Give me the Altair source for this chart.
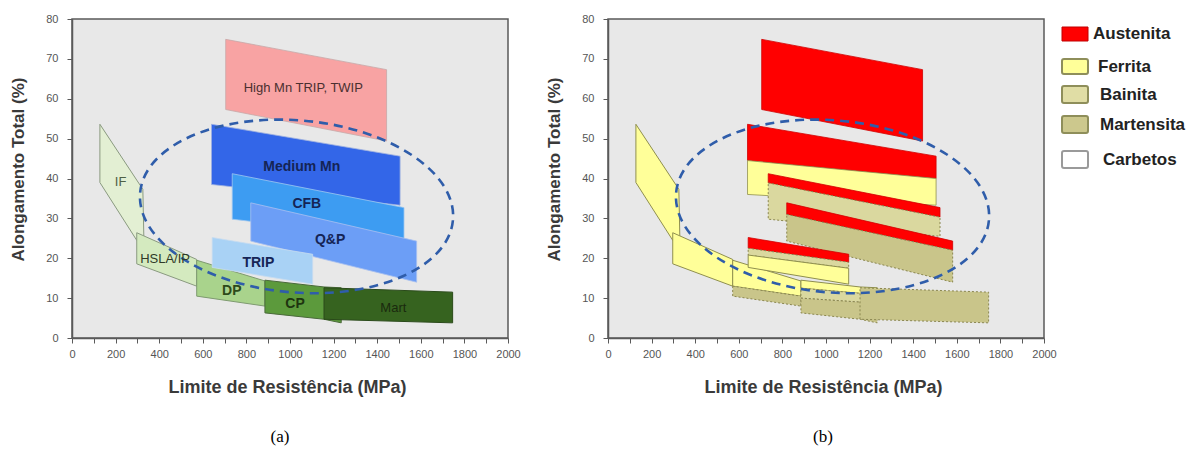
import altair as alt
import pandas as pd

W, H = 436, 319

# ---------------- data (MPa, %) ----------------
HIGHMN_X = [705, 1443]
HIGHMN_TOP = [74.9, 67.3]
HIGHMN_BOT = [57.3, 49.4]

MEDMN_X = [640, 1505]
MEDMN_TOP = [53.6, 45.6]
MEDMN_BOT = [38.5, 33.3]

CFB_X = [735, 1523]
CFB_TOP = [41.2, 32.7]
CFB_BOT = [29.8, 24.8]

QP_X = [820, 1581]
QP_TOP = [33.9, 24.3]
QP_BOT = [24.3, 14.0]

TRIP_X = [643, 1104]
TRIP_TOP = [25.2, 21.0]
TRIP_BOT = [17.7, 13.5]

IF_X = [128, 297, 325, 330]
IF_TOP = [53.6, 39.6, 37.3, 24.0]
IF_BOT = [39.0, 24.5, 24.2, 24.0]

HSLA_X = [297, 572]
HSLA_TOP = [26.4, 19.7]
HSLA_BOT = [18.6, 13.0]

DP_X = [572, 885]
DP_TOP = [19.5, 14.3]
DP_BOT = [10.5, 8.0]

CP_X = [885, 1156, 1235]
CP_TOP = [14.5, 12.8, 12.6]
CP_BOT = [6.3, 4.7, 3.8]

MART_X = [1156, 1746]
MART_TOP = [12.6, 11.5]
MART_BOT = [4.7, 3.8]

# phase boundaries inside each grade (panel b)
MEDMN_AUST_BOT = [44.5, 40.0]
MEDMN_FER_BOT = [36.0, 33.3]
CFB_AUST_BOT = [38.9, 30.3]
CFB_BAI_BOT = [29.8, 25.5]
QP_AUST_BOT = [31.0, 22.0]
TRIP_AUST_BOT = [22.5, 19.0]
TRIP_BAI_BOT = [20.8, 17.5]
DP_FER_BOT = [13.0, 10.5]
CP_FER_BOT = [12.5, 11.2, 11.0]
CP_BAI_BOT = [10.0, 9.0, 8.8]

ELLIPSE_X = [1030]
ELLIPSE_Y = [33.0]

LABELS_PLAIN = ["High Mn TRIP, TWIP", "IF", "HSLA/IP", "Mart"]
LABELS_PLAIN_X = [1061, 223, 427, 1474]
LABELS_PLAIN_Y = [62.7, 39.0, 19.7, 7.6]
LABELS_BOLD = ["Medium Mn", "CFB", "Q&P", "TRIP", "DP", "CP"]
LABELS_BOLD_X = [1054, 1077, 1184, 855, 733, 1023]
LABELS_BOLD_Y = [42.9, 33.5, 24.7, 18.9, 11.8, 8.5]

LEGEND_LABELS = ["Austenita", "Ferrita", "Bainita", "Martensita", "Carbetos"]

X_TICKS = list(range(0, 2001, 100))
Y_TICKS = list(range(0, 81, 10))

# ---------------- styles ----------------
PLAIN_COLORS = ["#4a3030", "#4f6045", "#2f3a28", "#1a2a0e"]
BOLD_COLORS = ["#152455", "#152455", "#152455", "#152455", "#2d4a1a", "#1e3510"]

RED = "#FF0000"
FER = "#FFFF99"
BAI = "#DAD89F"
MAR = "#C9C58A"
LEG_FILLS = [RED, FER, "#E0DDA5", "#CCC88D", "#FFFFFF"]
LEG_STROKES = ["#C00000", "#8E8E5A", "#8E8E5A", "#8E8E5A", "#9A9A9A"]
LEG_Y0 = [8, 40, 67, 97, 132]
LEG_Y1 = [22, 55, 84, 114, 149]
LEG_TX = [485, 490, 492, 492, 495]

FONT = "Liberation Sans"

XS = alt.Scale(domain=[0, 2000], nice=False, zero=False)
YS = alt.Scale(domain=[0, 80], nice=False, zero=False)

XAX = alt.Axis(values=X_TICKS, labelExpr="datum.value % 200 == 0 ? datum.label : ''",
               format="d", title="Limite de Resistência (MPa)", grid=False,
               tickSize=5, labelPadding=5, labelFlush=False, labelOverlap=False,
               titleX=215, titleY=49, titleBaseline="middle", titleFontSize=18)
YAX = alt.Axis(values=Y_TICKS, format="d", title="Alongamento Total (%)", grid=False,
               tickSize=5, labelPadding=9, titleX=-54, titleY=150,
               titleBaseline="middle", titleFontSize=17)

X_ENC = alt.X("x:Q", scale=XS, axis=XAX)
Y_ENC = alt.Y("top:Q", scale=YS, axis=YAX)

ELLIPSE_PATH = ("M-1,0C-1,-0.3027,-0.5523,-0.548,0,-0.548C0.5523,-0.548,1,-0.3027,1,0"
                "C1,0.3027,0.5523,0.548,0,0.548C-0.5523,0.548,-1,0.3027,-1,0Z")


def area(xs, top, bot, fill, stroke, sw=0.8, dash=None):
    df = pd.DataFrame({"x": xs, "top": top, "bot": bot})
    mk = dict(fill=fill, stroke=stroke, strokeWidth=sw, opacity=1, orient="vertical")
    if dash:
        mk["strokeDash"] = dash
    return alt.Chart(df).mark_area(**mk).encode(
        x=X_ENC, y=Y_ENC, y2=alt.Y2("bot:Q"))


def ellipse():
    df = pd.DataFrame({"x": ELLIPSE_X, "top": ELLIPSE_Y})
    return alt.Chart(df).mark_point(shape=ELLIPSE_PATH, size=98596, angle=5, filled=False,
                                    stroke="#2F5DAA", strokeWidth=2.6, strokeDash=[9, 6],
                                    opacity=1).encode(x=X_ENC, y=Y_ENC)


def caption(t, xpix):
    return alt.Chart(pd.DataFrame({"t": [t]})).mark_text(
        font="Liberation Serif", fontSize=17, color="#000000", align="center",
        baseline="middle").encode(x=alt.value(xpix), y=alt.value(418), text="t:N")


# ---------------- panel (a) ----------------
a_layers = [
    area(HIGHMN_X, HIGHMN_TOP, HIGHMN_BOT, "#F8A3A3", "#C8A8A8"),
    area(MEDMN_X, MEDMN_TOP, MEDMN_BOT, "#3366E8", "#9DB0E0"),
    area(CFB_X, CFB_TOP, CFB_BOT, "#3D9CF2", "#A0C8F0"),
    area(QP_X, QP_TOP, QP_BOT, "#6C9EF6", "#A8C0F0"),
    area(IF_X, IF_TOP, IF_BOT, "#E3EFD3", "#8A9A80", 1),
    area(HSLA_X, HSLA_TOP, HSLA_BOT, "#D4EABF", "#8A9A80", 1),
    area(DP_X, DP_TOP, DP_BOT, "#A9D38C", "#7E9A70", 1),
    area(CP_X, CP_TOP, CP_BOT, "#5C9A3C", "#4A6A3A", 1),
    area(MART_X, MART_TOP, MART_BOT, "#36631F", "#2A4A1A", 1),
    area(TRIP_X, TRIP_TOP, TRIP_BOT, "#A9D2F5", "#C8DCF0"),
    ellipse(),
]
plain_df = pd.DataFrame({"x": LABELS_PLAIN_X, "top": LABELS_PLAIN_Y, "t": LABELS_PLAIN,
                         "c": PLAIN_COLORS})
bold_df = pd.DataFrame({"x": LABELS_BOLD_X, "top": LABELS_BOLD_Y, "t": LABELS_BOLD,
                        "c": BOLD_COLORS})
a_layers.append(alt.Chart(plain_df).mark_text(font=FONT, fontSize=13).encode(
    x=X_ENC, y=Y_ENC, text="t:N", color=alt.Color("c:N", scale=None)))
a_layers.append(alt.Chart(bold_df).mark_text(font=FONT, fontSize=14, fontWeight="bold").encode(
    x=X_ENC, y=Y_ENC, text="t:N", color=alt.Color("c:N", scale=None)))
a_layers.append(caption("(a)", 208))
panel_a = alt.layer(*a_layers).properties(width=W, height=H)

# ---------------- panel (b) ----------------
RS, FS, HS = "#D00000", "#8F8F4F", "#8A8650"
DASH = [2, 2]
b_layers = [
    area(HIGHMN_X, HIGHMN_TOP, HIGHMN_BOT, RED, RS),
    area(MEDMN_X, MEDMN_TOP, MEDMN_AUST_BOT, RED, RS),
    area(MEDMN_X, MEDMN_AUST_BOT, MEDMN_FER_BOT, FER, FS),
    area(CFB_X, CFB_TOP, CFB_AUST_BOT, RED, RS),
    area(CFB_X, CFB_AUST_BOT, CFB_BAI_BOT, BAI, HS, 1, DASH),
    area(QP_X, QP_TOP, QP_AUST_BOT, RED, RS),
    area(QP_X, QP_AUST_BOT, QP_BOT, MAR, HS, 1, DASH),
    area(IF_X, IF_TOP, IF_BOT, FER, FS, 1),
    area(HSLA_X, HSLA_TOP, HSLA_BOT, FER, FS, 1),
    area(DP_X, DP_TOP, DP_FER_BOT, FER, FS, 1),
    area(DP_X, DP_FER_BOT, DP_BOT, MAR, HS, 1, DASH),
    area(CP_X, CP_TOP, CP_FER_BOT, FER, FS, 1),
    area(CP_X, CP_FER_BOT, CP_BAI_BOT, BAI, HS, 1, DASH),
    area(CP_X, CP_BAI_BOT, CP_BOT, MAR, HS, 1, DASH),
    area(MART_X, MART_TOP, MART_BOT, MAR, HS, 1, DASH),
    area(TRIP_X, TRIP_TOP, TRIP_AUST_BOT, RED, RS),
    area(TRIP_X, TRIP_AUST_BOT, TRIP_BAI_BOT, BAI, HS, 1, DASH),
    area(TRIP_X, TRIP_BAI_BOT, TRIP_BOT, FER, FS, 1),
    ellipse(),
]
for i, lab in enumerate(LEGEND_LABELS):
    one = pd.DataFrame({"t": [lab]})
    b_layers.append(alt.Chart(one).mark_rect(
        fill=LEG_FILLS[i], stroke=LEG_STROKES[i], strokeWidth=2 if i else 1,
        cornerRadius=2 if i else 0).encode(
        x=alt.value(454), x2=alt.value(480), y=alt.value(LEG_Y0[i]), y2=alt.value(LEG_Y1[i])))
    b_layers.append(alt.Chart(one).mark_text(
        font=FONT, fontSize=17, fontWeight="bold", color="#222222", align="left",
        baseline="middle").encode(
        x=alt.value(LEG_TX[i]), y=alt.value((LEG_Y0[i] + LEG_Y1[i]) / 2), text="t:N"))
b_layers.append(caption("(b)", 215))
panel_b = alt.layer(*b_layers).properties(width=W, height=H)

chart = alt.hconcat(panel_a, panel_b, spacing=23).properties(
    padding={"left": 8, "top": 12, "right": 0, "bottom": 0},
    background="#FFFFFF",
).configure_view(
    fill="#E8E8E8", stroke="#5A5A5A", strokeWidth=1.5
).configure_axis(
    labelFont=FONT, labelFontSize=11, labelColor="#555555",
    titleFont=FONT, titleFontWeight="bold", titleColor="#3A3A3A",
    domainColor="#5A5A5A", domainWidth=1.5, tickColor="#5A5A5A", tickWidth=1
)

chart.save("out.html", embed_options={"renderer": "svg", "actions": False})
